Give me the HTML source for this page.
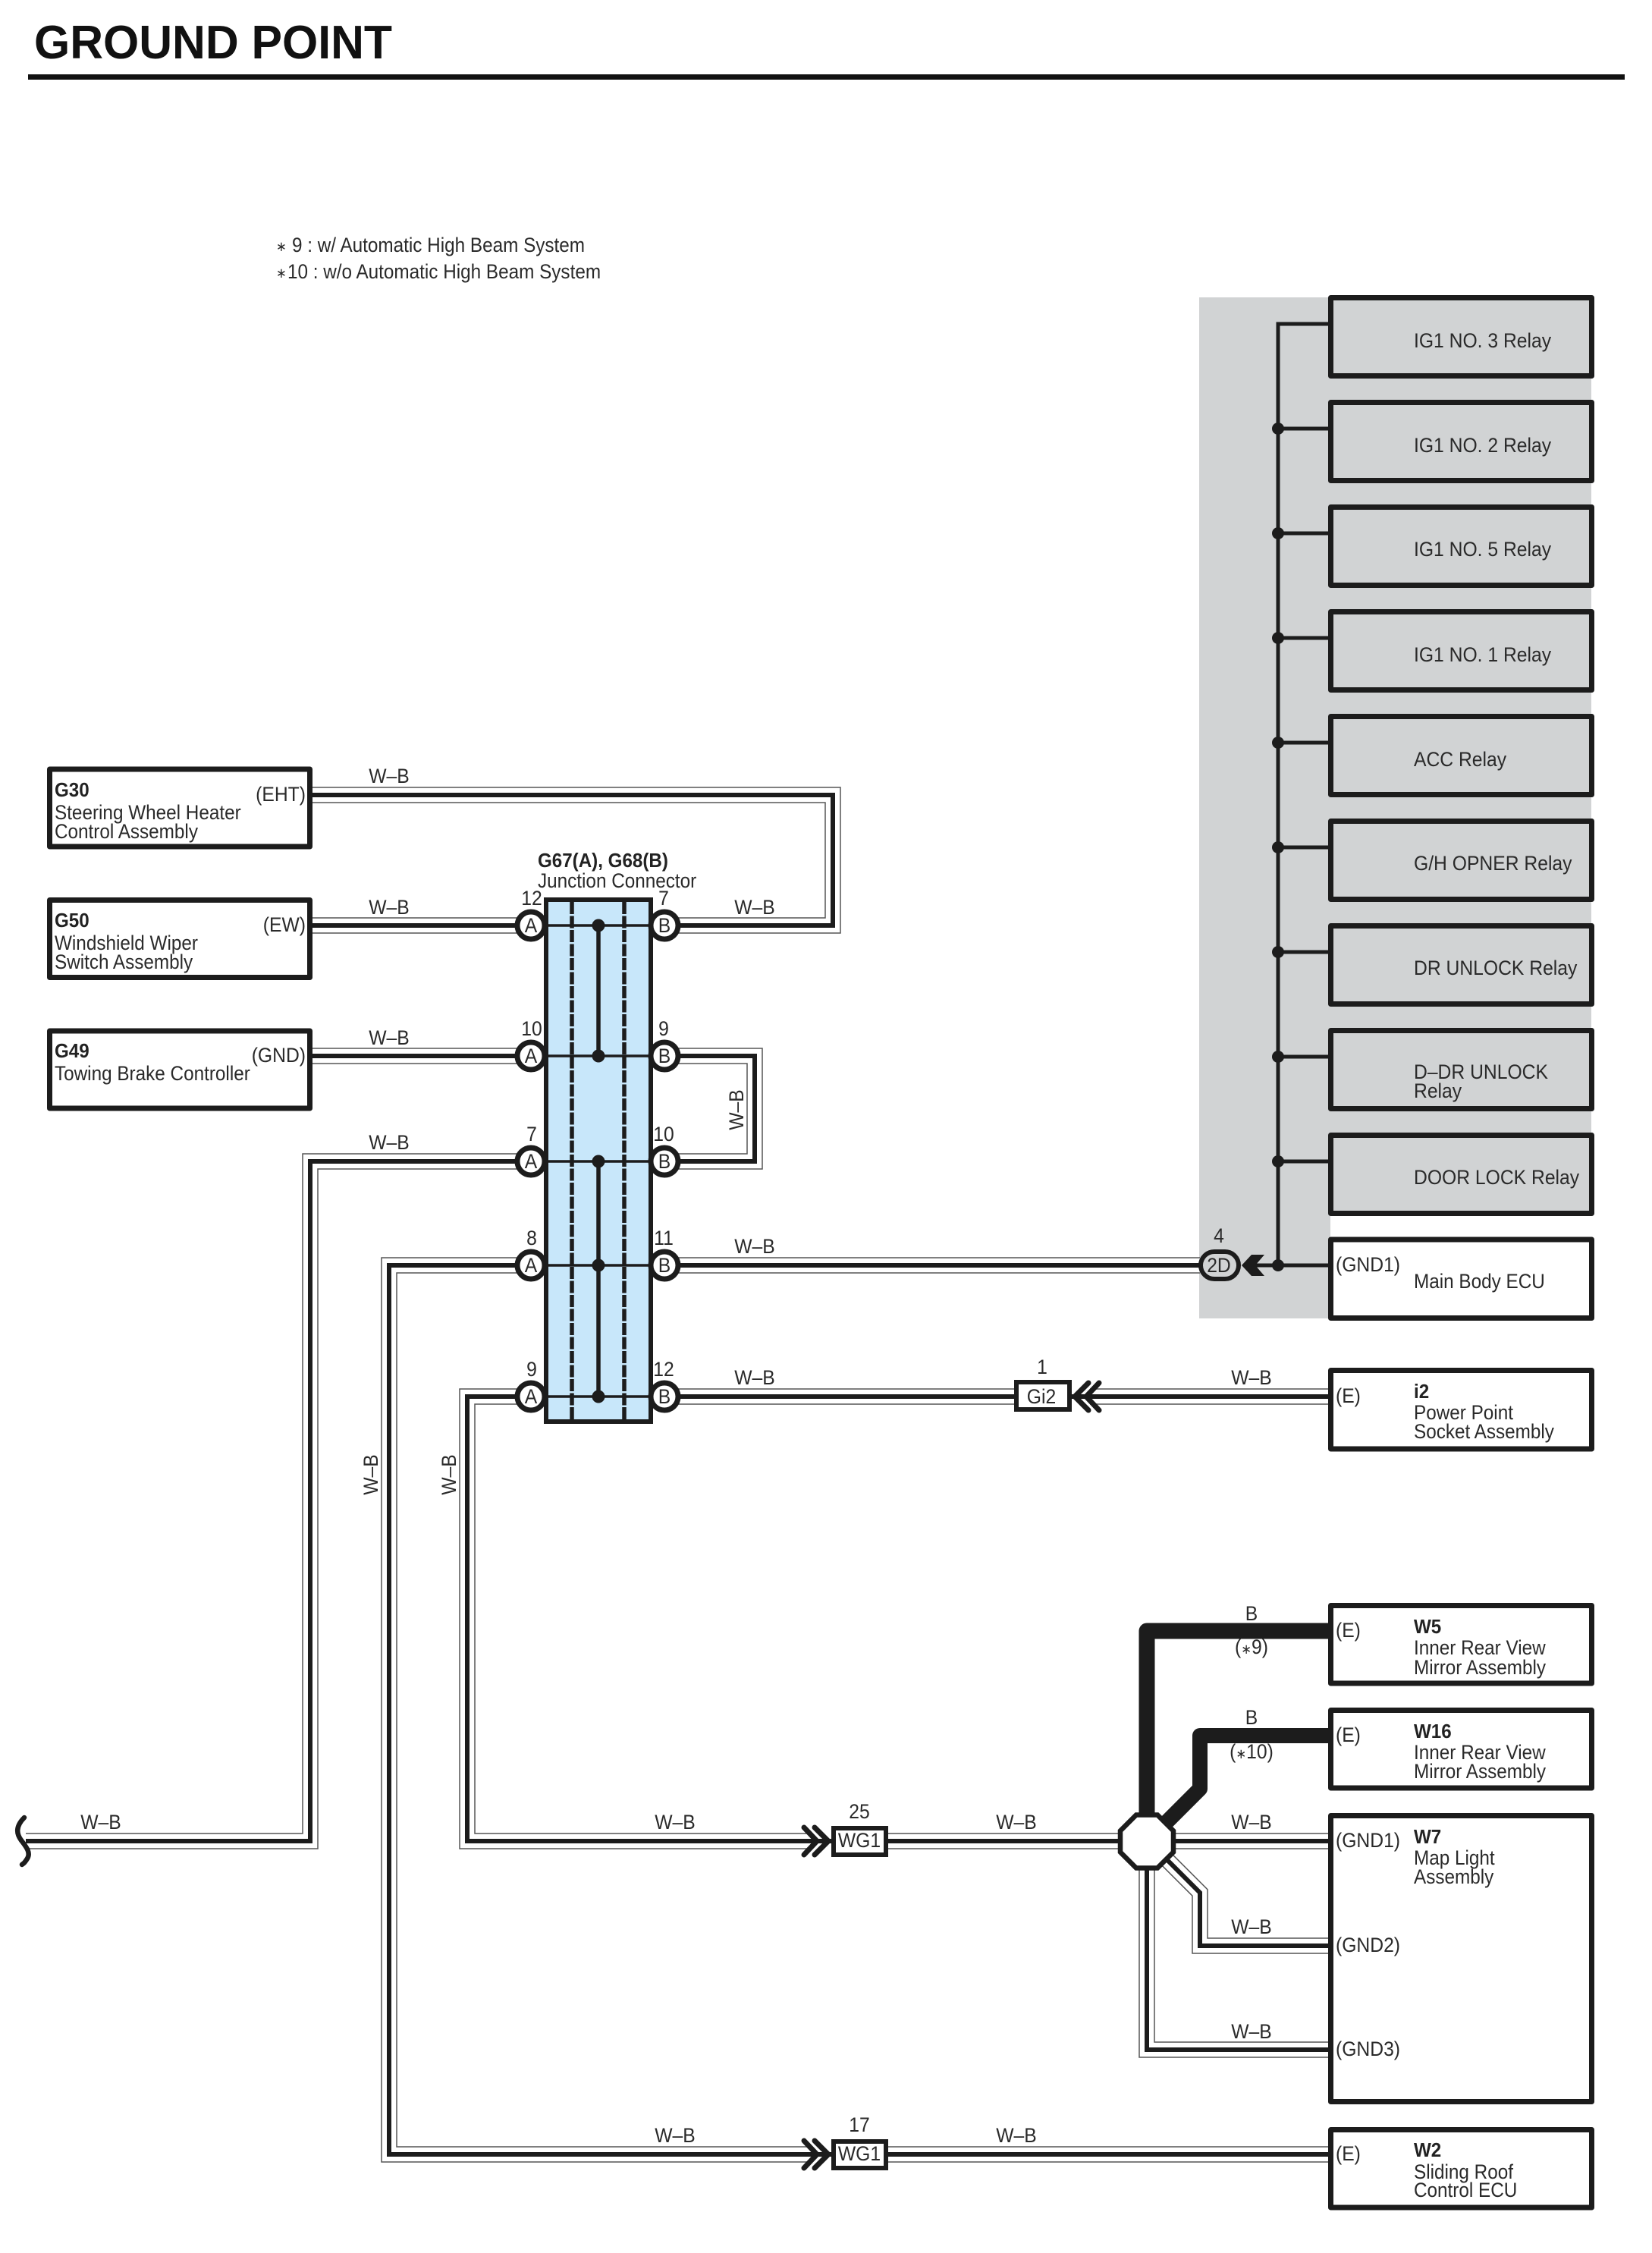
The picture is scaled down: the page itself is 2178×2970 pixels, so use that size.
<!DOCTYPE html>
<html><head><meta charset="utf-8"><title>Ground Point</title>
<style>
html,body{margin:0;padding:0;background:#fff}
svg{display:block}
text{font-family:"Liberation Sans",Arial,sans-serif;font-size:27px;fill:#2a2a2a;transform-box:fill-box;transform-origin:0 0;transform:scaleX(.915)}
.m{text-anchor:middle;transform-origin:50% 0}
.e{text-anchor:end;transform-origin:100% 0}
.n{transform:scaleX(.9)}
.h{font-weight:bold;fill:#222;font-size:26px;transform:scaleX(.93)}
.box{fill:#fff;stroke:#1c1c1c;stroke-width:7;stroke-linejoin:round}
.gb{fill:#d1d3d4;stroke:#1c1c1c;stroke-width:7;stroke-linejoin:round}
.w1{fill:none;stroke:#555;stroke-width:21.5;stroke-linejoin:miter}
.w2{fill:none;stroke:#fff;stroke-width:18.5;stroke-linejoin:miter}
.w3{fill:none;stroke:#1c1c1c;stroke-width:6;stroke-linejoin:miter}
.l{fill:none;stroke:#1c1c1c;stroke-width:5}
.c{fill:#fff;stroke:#1c1c1c;stroke-width:7}
.d{fill:#1c1c1c}
.ch{fill:none;stroke:#1c1c1c;stroke-width:7;stroke-linecap:round;stroke-linejoin:miter}
</style></head><body>
<svg xmlns="http://www.w3.org/2000/svg" width="2178" height="2970" viewBox="0 0 2178 2970">
<defs>
<path id="a" d="M412 1048H1098V1220H876"/>
<path id="b" d="M412 1220H700"/>
<path id="c" d="M412 1392H700"/>
<path id="d" d="M876 1392H995V1531H876"/>
<path id="e" d="M700 1531H409V2427H34"/>
<path id="f" d="M700 1668H513V2840H1070"/>
<path id="g" d="M700 1841H616V2427H1070"/>
<path id="h" d="M876 1668H1582"/>
<path id="i" d="M876 1841H1337"/>
<path id="j" d="M1437 1841H1751"/>
<path id="k" d="M1170 2427H1751"/>
<path id="l" d="M1170 2840H1751"/>
<path id="n" d="M1527 2440L1582 2495V2565H1751"/>
<path id="o" d="M1512 2440V2702H1751"/>
<g id="wires">
<use href="#a"/><use href="#b"/><use href="#c"/><use href="#d"/><use href="#e"/><use href="#f"/><use href="#g"/><use href="#h"/><use href="#i"/><use href="#j"/><use href="#k"/><use href="#l"/><use href="#n"/><use href="#o"/>
</g>
</defs>

<rect width="2178" height="2970" fill="#fff"/>

<text x="45" y="77" style="font-weight:bold;font-size:62px;transform:none;fill:#111" textLength="472" lengthAdjust="spacingAndGlyphs">GROUND POINT</text>
<rect x="37" y="98" width="2105" height="7" fill="#111"/>

<text x="364" y="331" style="font-size:18px">∗</text><text x="385" y="332" class="n">9 : w/ Automatic High Beam System</text>
<text x="364" y="366" style="font-size:18px">∗</text><text x="379" y="367" class="n">10 : w/o Automatic High Beam System</text>

<path d="M1581 392H2098V1602H1754V1738H1581Z" fill="#d1d3d4"/>

<use href="#wires" class="w1"/>
<use href="#wires" class="w2"/>
<use href="#wires" class="w3"/>
<path class="w3" d="M1070 2427H1096M1070 2840H1096M1437 1841H1411"/>

<path d="M1685 424.500V1668M1685 427H1751M1685 565H1751M1685 703H1751M1685 841H1751M1685 979H1751M1685 1117H1751M1685 1255H1751M1685 1393H1751M1685 1531H1751M1650 1668H1751" class="l"/>
<g class="d">
<circle cx="1685" cy="565" r="8"/><circle cx="1685" cy="703" r="8"/><circle cx="1685" cy="841" r="8"/><circle cx="1685" cy="979" r="8"/><circle cx="1685" cy="1117" r="8"/><circle cx="1685" cy="1255" r="8"/><circle cx="1685" cy="1393" r="8"/><circle cx="1685" cy="1531" r="8"/><circle cx="1685" cy="1668" r="8"/>
</g>

<path d="M1637 1668L1650 1654H1667L1655 1668L1667 1682H1650Z" fill="#1c1c1c"/>
<rect x="1583" y="1650" width="50" height="36" rx="18" fill="#d1d3d4" stroke="#1c1c1c" stroke-width="6"/>
<text x="1607" y="1677" class="m">2D</text>
<text x="1607" y="1638" class="m">4</text>

<!-- left boxes -->
<rect class="box" x="65.500" y="1014" width="343" height="102"/>
<rect class="box" x="65.500" y="1186.500" width="343" height="102"/>
<rect class="box" x="65.500" y="1359" width="343" height="102"/>
<text x="72" y="1050" class="h">G30</text><text x="72" y="1080" class="n">Steering Wheel Heater</text><text x="72" y="1105" class="n">Control Assembly</text>
<text x="403" y="1056" class="e">(EHT)</text>
<text x="72" y="1222" class="h">G50</text><text x="72" y="1252" class="n">Windshield Wiper</text><text x="72" y="1277" class="n">Switch Assembly</text>
<text x="403" y="1228" class="e">(EW)</text>
<text x="72" y="1394" class="h">G49</text><text x="72" y="1424" class="n">Towing Brake Controller</text>
<text x="403" y="1400" class="e">(GND)</text>

<!-- junction -->
<text x="709" y="1143" class="h">G67(A), G68(B)</text>
<text x="709" y="1170" class="n">Junction Connector</text>
<rect x="720" y="1186" width="138" height="688" fill="#c8e7fa" stroke="#1c1c1c" stroke-width="6"/>
<path d="M754 1189V1871M823 1189V1871" fill="none" stroke="#1c1c1c" stroke-width="5.500" stroke-dasharray="16 2.500"/>
<path d="M720 1220H858M720 1392H858M720 1531H858M720 1668H858M720 1841H858" fill="none" stroke="#1c1c1c" stroke-width="3.500"/>
<path d="M789 1220V1392M789 1531V1841" fill="none" stroke="#1c1c1c" stroke-width="5.500"/>
<g class="d"><circle cx="789" cy="1220" r="8.500"/><circle cx="789" cy="1392" r="8.500"/><circle cx="789" cy="1531" r="8.500"/><circle cx="789" cy="1668" r="8.500"/><circle cx="789" cy="1841" r="8.500"/></g>

<circle class="c" cx="700" cy="1220" r="18"/><circle class="c" cx="700" cy="1392" r="18"/><circle class="c" cx="700" cy="1531" r="18"/><circle class="c" cx="700" cy="1668" r="18"/><circle class="c" cx="700" cy="1841" r="18"/>
<circle class="c" cx="876" cy="1220" r="18"/><circle class="c" cx="876" cy="1392" r="18"/><circle class="c" cx="876" cy="1531" r="18"/><circle class="c" cx="876" cy="1668" r="18"/><circle class="c" cx="876" cy="1841" r="18"/>
<text x="700" y="1229" class="m">A</text><text x="700" y="1401" class="m">A</text><text x="700" y="1540" class="m">A</text><text x="700" y="1677" class="m">A</text><text x="700" y="1850" class="m">A</text>
<text x="876" y="1229" class="m">B</text><text x="876" y="1401" class="m">B</text><text x="876" y="1540" class="m">B</text><text x="876" y="1677" class="m">B</text><text x="876" y="1850" class="m">B</text>
<text x="701" y="1193" class="m">12</text><text x="701" y="1365" class="m">10</text><text x="701" y="1504" class="m">7</text><text x="701" y="1641" class="m">8</text><text x="701" y="1814" class="m">9</text>
<text x="875" y="1193" class="m">7</text><text x="875" y="1365" class="m">9</text><text x="875" y="1504" class="m">10</text><text x="875" y="1641" class="m">11</text><text x="875" y="1814" class="m">12</text>

<!-- wire labels -->
<text x="513" y="1032" class="m">W–B</text><text x="513" y="1205" class="m">W–B</text><text x="513" y="1377" class="m">W–B</text><text x="513" y="1515" class="m">W–B</text>
<text x="995" y="1205" class="m">W–B</text><text x="995" y="1652" class="m">W–B</text><text x="995" y="1825" class="m">W–B</text><text x="1650" y="1825" class="m">W–B</text>
<g transform="translate(980 1463) rotate(-90)"><text class="m" x="0" y="0">W–B</text></g>
<g transform="translate(498 1944) rotate(-90)"><text class="m" x="0" y="0">W–B</text></g>
<g transform="translate(601 1944) rotate(-90)"><text class="m" x="0" y="0">W–B</text></g>
<text x="133" y="2411" class="m">W–B</text><text x="890" y="2411" class="m">W–B</text><text x="1340" y="2411" class="m">W–B</text><text x="1650" y="2411" class="m">W–B</text>
<text x="1650" y="2549" class="m">W–B</text><text x="1650" y="2687" class="m">W–B</text><text x="890" y="2824" class="m">W–B</text><text x="1340" y="2824" class="m">W–B</text>

<!-- break -->
<path d="M32 2396C20 2408 22 2418 28 2426S41 2442 36 2450 31 2456 29 2458" fill="none" stroke="#1c1c1c" stroke-width="6.500" stroke-linecap="round"/>

<!-- Gi2 connector -->
<rect x="1340" y="1822" width="70" height="36" fill="#fff" stroke="#1c1c1c" stroke-width="6"/>
<text x="1373" y="1850" class="m">Gi2</text>
<text x="1374" y="1811" class="m">1</text>
<path class="ch" d="M1449 1823L1432 1841L1449 1859M1435 1823L1417 1841L1435 1859"/>

<!-- WG1 connectors -->
<rect x="1099" y="2410" width="69" height="35" fill="#fff" stroke="#1c1c1c" stroke-width="6"/>
<text x="1133" y="2435" class="m">WG1</text><text x="1133" y="2397" class="m">25</text>
<path class="ch" d="M1060 2409L1077 2427L1060 2445M1074 2409L1092 2427L1074 2445"/>
<rect x="1099" y="2823" width="69" height="35" fill="#fff" stroke="#1c1c1c" stroke-width="6"/>
<text x="1133" y="2848" class="m">WG1</text><text x="1133" y="2810" class="m">17</text>
<path class="ch" d="M1060 2822L1077 2840L1060 2858M1074 2822L1092 2840L1074 2858"/>

<!-- thick wires -->
<path d="M1751 2150H1512V2410" fill="none" stroke="#1c1c1c" stroke-width="21" stroke-linejoin="round"/>
<path d="M1751 2288H1582V2358L1535 2405" fill="none" stroke="#1c1c1c" stroke-width="20" stroke-linejoin="round"/>
<polygon points="1498,2392.500 1526,2392.500 1547,2413.500 1547,2441.500 1526,2462.500 1498,2462.500 1477,2441.500 1477,2413.500" fill="#fff" stroke="#1c1c1c" stroke-width="6.500"/>
<text x="1650" y="2136" class="m">B</text><text x="1650" y="2180" class="m">(<tspan style="font-size:18px">∗</tspan>9)</text>
<text x="1650" y="2273" class="m">B</text><text x="1650" y="2318" class="m">(<tspan style="font-size:18px">∗</tspan>10)</text>

<!-- relay boxes -->
<rect class="gb" x="1754.500" y="392.500" width="344" height="103"/>
<rect class="gb" x="1754.500" y="530.500" width="344" height="103"/>
<rect class="gb" x="1754.500" y="668.500" width="344" height="103"/>
<rect class="gb" x="1754.500" y="806.500" width="344" height="103"/>
<rect class="gb" x="1754.500" y="944.500" width="344" height="103"/>
<rect class="gb" x="1754.500" y="1082.500" width="344" height="103"/>
<rect class="gb" x="1754.500" y="1220.500" width="344" height="103"/>
<rect class="gb" x="1754.500" y="1358.500" width="344" height="103"/>
<rect class="gb" x="1754.500" y="1496.500" width="344" height="103"/>
<text x="1864" y="458">IG1 NO. 3 Relay</text>
<text x="1864" y="596">IG1 NO. 2 Relay</text>
<text x="1864" y="733">IG1 NO. 5 Relay</text>
<text x="1864" y="872">IG1 NO. 1 Relay</text>
<text x="1864" y="1010">ACC Relay</text>
<text x="1864" y="1147">G/H OPNER Relay</text>
<text x="1864" y="1285">DR UNLOCK Relay</text>
<text x="1864" y="1422">D–DR UNLOCK</text><text x="1864" y="1447">Relay</text>
<text x="1864" y="1561">DOOR LOCK Relay</text>

<!-- right white boxes -->
<rect class="box" x="1754.500" y="1634" width="344" height="103.500"/>
<text x="1761" y="1676">(GND1)</text><text x="1864" y="1698" class="n">Main Body ECU</text>
<rect class="box" x="1754.500" y="1806.500" width="344" height="103.500"/>
<text x="1761" y="1849">(E)</text><text x="1864" y="1843" class="h">i2</text><text x="1864" y="1871" class="n">Power Point</text><text x="1864" y="1896" class="n">Socket Assembly</text>

<rect class="box" x="1754.500" y="2116.500" width="344" height="102.500"/>
<text x="1761" y="2158">(E)</text><text x="1864" y="2153" class="h">W5</text><text x="1864" y="2181" class="n">Inner Rear View</text><text x="1864" y="2207" class="n">Mirror Assembly</text>
<rect class="box" x="1754.500" y="2254.500" width="344" height="102.500"/>
<text x="1761" y="2296">(E)</text><text x="1864" y="2291" class="h">W16</text><text x="1864" y="2319" class="n">Inner Rear View</text><text x="1864" y="2344" class="n">Mirror Assembly</text>
<rect class="box" x="1754.500" y="2393.500" width="344" height="377"/>
<text x="1761" y="2435">(GND1)</text><text x="1864" y="2430" class="h">W7</text><text x="1864" y="2458" class="n">Map Light</text><text x="1864" y="2483" class="n">Assembly</text>
<text x="1761" y="2573">(GND2)</text><text x="1761" y="2710">(GND3)</text>
<rect class="box" x="1754.500" y="2807.500" width="344" height="102.500"/>
<text x="1761" y="2848">(E)</text><text x="1864" y="2843" class="h">W2</text><text x="1864" y="2872" class="n">Sliding Roof</text><text x="1864" y="2896" class="n">Control ECU</text>
</svg>
</body></html>
